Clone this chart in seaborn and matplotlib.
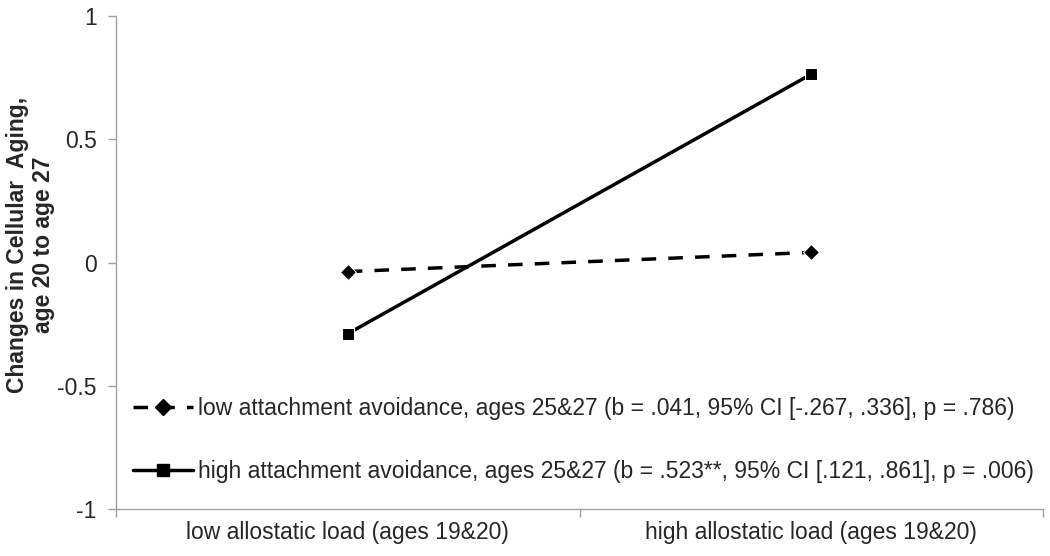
import matplotlib
matplotlib.use("Agg")
import matplotlib.pyplot as plt
import seaborn as sns
import pandas as pd
from matplotlib.lines import Line2D

categories = ["low allostatic load (ages 19&20)", "high allostatic load (ages 19&20)"]
low_avoid = [-0.037, 0.041]
high_avoid = [-0.289, 0.764]
series_names = [
    "low attachment avoidance, ages 25&27 (b = .041, 95% CI [-.267, .336], p = .786)",
    "high attachment avoidance, ages 25&27 (b = .523**, 95% CI [.121, .861], p = .006)",
]
y_ticks = [-1, -0.5, 0, 0.5, 1]
y_tick_labels = ["-1", "-0.5", "0", "0.5", "1"]

df = pd.DataFrame({
    "pos": [0, 1, 0, 1],
    "value": low_avoid + high_avoid,
    "group": [series_names[0]] * 2 + [series_names[1]] * 2,
})

sns.set_theme(style="white")
plt.rcParams['font.family'] = ['Liberation Sans', 'DejaVu Sans']

FS = 16.5
DASH = (4.2, 3.5)

fig = plt.figure(figsize=(10.5, 5.56), dpi=100)
ax = fig.add_axes([116/1050, 1 - 509/556, (1043-116)/1050, (509-16)/556])

sns.lineplot(data=df, x="pos", y="value", hue="group", style="group",
             palette=["black", "black"], markers=["D", "s"],
             dashes=[DASH, ""], linewidth=2.5, markersize=9,
             ax=ax, legend=False)
ax.lines[0].set_markersize(8)

ax.set_xlim(-0.5, 1.5)
ax.set_ylim(-1, 1)
ax.set_yticks(y_ticks)
ax.set_yticklabels(y_tick_labels, fontsize=FS)
ax.set_xticks([0, 1])
ax.set_xticklabels(categories, fontsize=FS)
ax.set_xticks([-0.5, 0.5, 1.5], minor=True)
ax.tick_params(axis="x", which="major", length=0, pad=9)
ax.tick_params(axis="x", which="minor", length=6, color="#a0a0a0", width=1, bottom=True)
ax.tick_params(axis="y", which="major", length=6, color="#a0a0a0", width=1, left=True, pad=8)
ax.set_xlabel("")
ax.set_ylabel("Changes in Cellular  Aging,\nage 20 to age 27", fontsize=FS, fontweight="bold",
              linespacing=1.15)
ax.yaxis.set_label_coords(-0.066, 0.535)

for s in ["top", "right"]:
    ax.spines[s].set_visible(False)
for s in ["left", "bottom"]:
    ax.spines[s].set_color("#a0a0a0")
    ax.spines[s].set_linewidth(1)

handles = [
    Line2D([], [], color="black", linestyle=(0, DASH), linewidth=2.5, marker="D", markersize=8),
    Line2D([], [], color="black", linestyle="-", linewidth=2.5, marker="s", markersize=9),
]
fig.legend(handles, series_names, loc="upper left", bbox_to_anchor=(133/1050, 1 - 397/556),
           frameon=False, fontsize=FS, handlelength=2.6, labelspacing=1.73,
           handletextpad=0.25, borderaxespad=0, borderpad=0)

fig.savefig("out.png", dpi=100)
